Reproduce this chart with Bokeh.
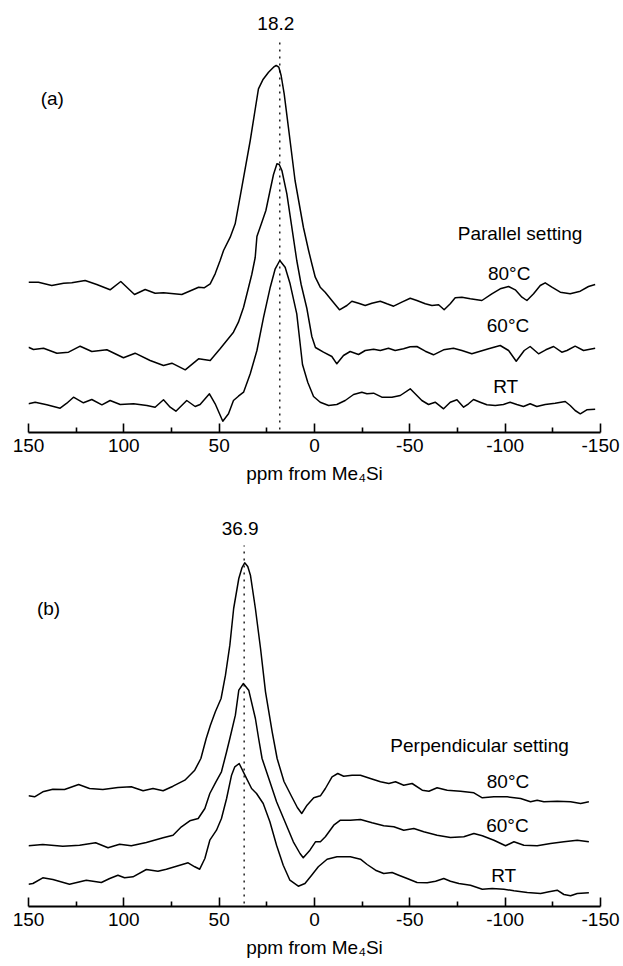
from bokeh.plotting import figure
from bokeh.models import Range1d, FixedTicker, Label
from bokeh.layouts import column
from bokeh.embed import file_html
from bokeh.resources import INLINE

# ---------------- data (ppm, intensity in display units above the axis) ----------------
TICKS = [150, 100, 50, 0, -50, -100, -150]
MINOR_TICKS = [125, 75, 25, -25, -75, -125]
X_LABEL = "ppm from Me\u2084Si"
PEAK_A = 18.2
PEAK_B = 36.9
SERIES_NAMES = ["80\u00b0C", "60\u00b0C", "RT"]
TITLE_A = "Parallel setting"
TITLE_B = "Perpendicular setting"

# Panel (a) parallel setting
A80_X = [150, 144.8, 137.8, 131.6, 127.3, 120.3, 114.2, 107.2, 101.6, 97.6, 94.4, 88.8, 83.6, 79.2,
         69.6, 63.5, 60.8, 57.9, 54.7, 52.1, 49.5, 47.7, 44.2, 41.6, 38.1, 33.7, 29.4, 27.1, 24.1,
         21.5, 20.1, 18.7, 17.5, 15.9, 13.7, 10.2, 5.8, 3.1, 1.3, -0.4, -3.0, -5.6, -9.1, -13.1,
         -17.0, -19.6, -23.1, -26.6, -30.1, -34.5, -38.0, -41.5, -45.8, -50.2, -53.7, -58.1, -61.6,
         -65.1, -68.0, -71.2, -73.8, -77.3, -81.7, -87.8, -93.0, -97.4, -101.8, -105.3, -108.8,
         -111.4, -114.9, -118.4, -121.0, -124.5, -128.9, -134.1, -139.4, -143.7, -147.2]
A80_Y = [150.3, 150.3, 147, 149.3, 149.7, 152, 148, 142.7, 151, 143.7, 138, 143, 139.3, 139.7,
         138, 143, 145.3, 144.7, 148.7, 158.7, 172, 182, 195.3, 208.7, 245.3, 292, 343.7, 352.7, 360.3,
         365.3, 367, 365.3, 357, 338.7, 305.3, 252, 205, 182, 168, 155.3, 145.3, 140.3, 132, 122.7,
         127, 131.3, 129.3, 127, 129.3, 131.3, 128.7, 126.3, 130.3, 134.3, 132, 128.7, 127,
         127.7, 122.7, 128.7, 134.7, 135.3, 133.7, 132, 138.7, 143.7, 146, 142.7, 135.3,
         132, 138.7, 147, 149.7, 145.3, 140.3, 138.7, 141.3, 146, 148]

A60_X = [150, 147.4, 142.1, 135.1, 129, 122.9, 116.8, 108.9, 100.2, 94.1, 86.2, 79.2, 74.8, 67.8,
         60.8, 54.7, 49.5, 42.5, 39.9, 37.2, 34.6, 32.9, 31.1, 30.2, 27.6, 25.5, 23.3, 21.5, 19.7,
         18.5, 17.1, 14.5, 11.9, 9.3, 7.0, 4.0, 1.4, -0.5, -4.7, -9.1, -11.7, -15.2, -18.7, -23.1,
         -26.6, -31.0, -34.5, -38.8, -42.3, -46.7, -50.2, -53.7, -58.1, -62.4, -67.7, -72.9, -77.3,
         -82.5, -86.9, -91.3, -97.4, -101.8, -105.8, -110.0, -113.1, -117.5, -121.3, -125.4,
         -129.7, -132.4, -136.7, -141.1, -147.2]
A60_Y = [85.3, 83, 84.3, 79.3, 80.3, 86.3, 81, 82.7, 74.7, 79.3, 72, 67, 69.3, 62.7,
         73.7, 72, 83.7, 100.3, 110.3, 125.3, 145, 158, 175, 196, 210.3, 222, 242, 258, 268.7,
         268, 262, 238.7, 205.3, 172, 148, 124, 96, 85, 80.3, 76, 68.7, 77, 81, 78,
         82, 83.3, 82, 84.3, 82, 83.7, 85.7, 86, 81.3, 77.7, 82.7, 84.3, 82,
         78.7, 81.3, 83.7, 87, 82, 71.3, 82, 86, 78.7, 82.7, 86,
         80.3, 82, 86.3, 82, 84.3]

ART_X = [150, 146.5, 140.4, 133.4, 129.9, 126.4, 121.2, 116.8, 111.5, 107.2, 101.9, 94.9, 87.9,
         83.6, 79.2, 75.7, 72.7, 67.0, 62.6, 60.0, 55.1, 52.1, 48.1, 45.1, 42.5, 39.9, 37.2, 33.7,
         30.2, 26.7, 23.2, 20.6, 18.2, 15.4, 12.8, 9.3, 6.3, 3.5, 0.5, -3.0, -7.4, -11.7, -16.1,
         -20.5, -24.8, -27.5, -31.0, -35.3, -40.6, -45.0, -50.2, -52.8, -56.3, -59.8, -63.3, -67.7,
         -71.2, -74.7, -78.2, -80.8, -83.4, -86.9, -90.4, -94.8, -99.1, -102.6, -106.1, -109.6,
         -113.1, -116.6, -121.0, -126.2, -131.5, -134.1, -136.7, -139.4, -142.8, -147.2]
ART_Y = [28.7, 30.3, 27.7, 24.3, 29.3, 35.3, 29.7, 33, 27.7, 32, 28, 28.7, 27,
         25.3, 32.7, 25.3, 21.3, 32, 26, 28, 38.7, 28.7, 11.3, 18.7, 32, 36.3, 40.3, 58.7,
         82, 115.3, 145.3, 163.7, 172, 165.3, 148.7, 118.7, 68, 50, 36, 30.3, 27, 28, 32,
         38, 40.3, 38.7, 39.3, 35.3, 35.3, 37, 43.7, 38.7, 32, 28, 30.3, 23.7,
         30.3, 32.7, 25.3, 28.7, 33, 30.3, 27.7, 27, 28, 30.3, 28, 26,
         28.7, 26, 28, 29.3, 31, 27, 22, 18.7, 22.7, 23.3]

# Panel (b) perpendicular setting
B80_X = [150, 146.8, 142.5, 137.2, 131.1, 123.7, 118.0, 111.0, 103.1, 96.1, 89.9, 84.7, 79.4, 74.2,
         68.0, 62.8, 59.6, 56.8, 54.6, 52.0, 49.0, 46.7, 44.4, 42.4, 39.7, 38.0, 36.6, 35.0, 33.6,
         31.0, 28.3, 25.7, 22.2, 19.6, 16.0, 12.0, 9.0, 6.7, 3.9, 0.4, -3.1, -5.7, -9.2, -12.2,
         -15.3, -19.7, -24.1, -29.3, -34.6, -39.0, -42.5, -46.8, -51.2, -56.5, -60.0, -64.3, -69.6,
         -76.6, -83.6, -88.0, -94.1, -101.1, -108.1, -113.3, -116.8, -120.3, -127.3, -134.3,
         -139.6, -143.9]
B80_Y = [110.7, 109.7, 114.7, 117.3, 117, 122, 118, 117, 119, 119.7, 115.7, 118, 115.7, 120.3,
         126.3, 136.3, 148, 168, 181.3, 194.7, 208, 231.3, 261.3, 298, 328, 339, 343.7, 340, 331.3,
         298, 258, 214.7, 174.7, 148, 125, 110, 99, 93, 101.3, 108.7, 110.7, 118, 129.7, 133,
         130.3, 131.3, 131.3, 128, 124.7, 123, 124.7, 121.3, 123, 116.3, 115.3, 118.7, 116.3,
         115.3, 113.7, 108.7, 109.7, 109.7, 108, 104.7, 106.3, 104.7, 105.3, 104.7,
         103, 104.7]

B60_X = [150, 142.5, 132.0, 123.2, 114.8, 108.3, 102.2, 96.1, 88.2, 79.4, 74.2, 69.8, 65.4, 61.0,
         57.5, 54.9, 51.7, 48.8, 46.1, 44.4, 41.5, 39.7, 37.3, 34.5, 31.0, 29.3, 27.5, 23.4, 19.9,
         15.5, 11.1, 7.6, 5.9, 2.4, -0.5, -3.1, -5.7, -10.1, -13.6, -18.8, -24.1, -30.2, -36.3,
         -41.6, -46.8, -52.1, -57.3, -64.3, -71.3, -78.3, -83.6, -88.0, -94.1, -100.2, -104.6,
         -109.8, -116.8, -123.8, -130.8, -137.8, -143.9]
B60_Y = [60.7, 62, 60.3, 61.3, 63.7, 58.7, 62.3, 60.7, 64, 68.7, 71.3, 79.7, 85.7, 88,
         98, 113, 124.7, 134.7, 154.7, 168, 191.3, 216.3, 223, 216.3, 188, 168, 148, 124.7, 104.7,
         84.7, 64.7, 53, 48.7, 56.3, 64.7, 64.7, 69.7, 81.3, 86.3, 86.3, 87, 83.7, 80.7,
         79.7, 76.3, 78, 74.7, 71.3, 69, 69.7, 73, 70.7, 66.3, 60.7, 64.7,
         61.3, 60.7, 63, 64.7, 66.3, 64.7]

BRT_X = [150, 147.7, 142.5, 137.2, 128.5, 119.7, 111.8, 107.4, 103.1, 99.6, 95.2, 88.2, 82.1, 77.7,
         72.4, 66.3, 62.8, 60.2, 57.5, 54.9, 51.4, 48.8, 46.1, 43.5, 41.8, 39.5, 36.5, 33.0, 30.4,
         26.9, 23.4, 19.9, 16.4, 12.9, 8.5, 5.0, 1.5, -2.0, -6.6, -11.8, -18.8, -24.1, -27.6,
         -32.0, -36.3, -40.7, -44.2, -48.6, -53.8, -59.1, -63.5, -67.8, -71.3, -75.7, -81.8, -88.0,
         -93.2, -99.3, -104.6, -111.6, -118.6, -123.0, -127.3, -130.8, -134.3, -137.8, -143.9]
BRT_Y = [22.3, 23, 28.7, 27, 22.3, 26.3, 24, 28, 31.3, 28.7, 29.7, 37, 35.3, 37.3,
         40.3, 43.7, 39.7, 37.3, 48, 66.3, 76.3, 88, 108, 131.3, 139.7, 143, 131.3, 118, 113,
         103, 84.7, 61.3, 41.3, 26.3, 20.3, 23, 31.3, 39.7, 47.3, 49.7, 49.7, 47.3, 42,
         36.3, 33, 34, 31.3, 28, 24, 23.7, 25.3, 28, 25.3, 23, 21.3, 17.3,
         18, 17.3, 15.7, 14, 13, 14.7, 16.3, 12, 10.7, 13, 13.7]

FONT = "Liberation Sans"
FS = "19px"


def make_panel(height, frame_h, series, peak, peak_top, tag, tag_pos, title, title_pos, name_pos):
    p = figure(width=623, height=height, x_range=Range1d(150, -150), y_range=Range1d(0, frame_h),
               output_backend="svg", toolbar_location=None, y_axis_location=None,
               min_border_left=28, min_border_right=23, min_border_top=10, min_border_bottom=60)
    p.outline_line_color = None
    p.xgrid.visible = False
    p.ygrid.visible = False
    ax = p.xaxis[0]
    ax.ticker = FixedTicker(ticks=TICKS, minor_ticks=MINOR_TICKS)
    ax.major_label_overrides = {float(t): str(t) for t in TICKS}
    ax.axis_line_width = 2
    ax.axis_line_color = "black"
    ax.major_tick_line_width = 1.6
    ax.minor_tick_line_width = 1.6
    ax.major_tick_line_color = "black"
    ax.minor_tick_line_color = "black"
    ax.major_tick_in = 9
    ax.major_tick_out = 0
    ax.minor_tick_in = 5
    ax.minor_tick_out = 0
    ax.major_label_text_font = FONT
    ax.major_label_text_font_size = FS
    ax.major_label_text_color = "black"
    ax.major_label_standoff = 6
    ax.axis_label = X_LABEL
    ax.axis_label_text_font = FONT
    ax.axis_label_text_font_size = FS
    ax.axis_label_text_font_style = "normal"
    ax.axis_label_text_color = "black"
    ax.axis_label_standoff = 8

    for xs, ys in series:
        p.line(xs, ys, line_color="black", line_width=1.5, line_join="round")

    p.line([peak, peak], [3, peak_top], line_color="black", line_width=1.3, line_dash="2 5")
    common = dict(text_font=FONT, text_font_size=FS, text_color="black",
                  text_align="center", text_baseline="middle")
    p.add_layout(Label(x=peak, y=peak_top + 17, x_offset=-4, text=f"{peak}", **common))
    p.add_layout(Label(x=tag_pos[0], y=tag_pos[1], text=tag, **common))
    p.add_layout(Label(x=title_pos[0], y=title_pos[1], text=title, **common))
    for name, (nx, ny) in zip(SERIES_NAMES, name_pos):
        p.add_layout(Label(x=nx, y=ny, text=name, **common))
    return p


pa = make_panel(492, 422, [(A80_X, A80_Y), (A60_X, A60_Y), (ART_X, ART_Y)], PEAK_A, 392,
                "(a)", (137.5, 334), TITLE_A, (-107.8, 199),
                [(-102.1, 159), (-101.5, 107), (-100.3, 46)])
pb = make_panel(474, 404, [(B80_X, B80_Y), (B60_X, B60_Y), (BRT_X, BRT_Y)], PEAK_B, 361,
                "(b)", (139.5, 298), TITLE_B, (-86.6, 161),
                [(-101.5, 125), (-101.2, 81), (-99.2, 31)])

layout = column(pa, pb, spacing=0)
open("out.html", "w").write(file_html(layout, INLINE))
